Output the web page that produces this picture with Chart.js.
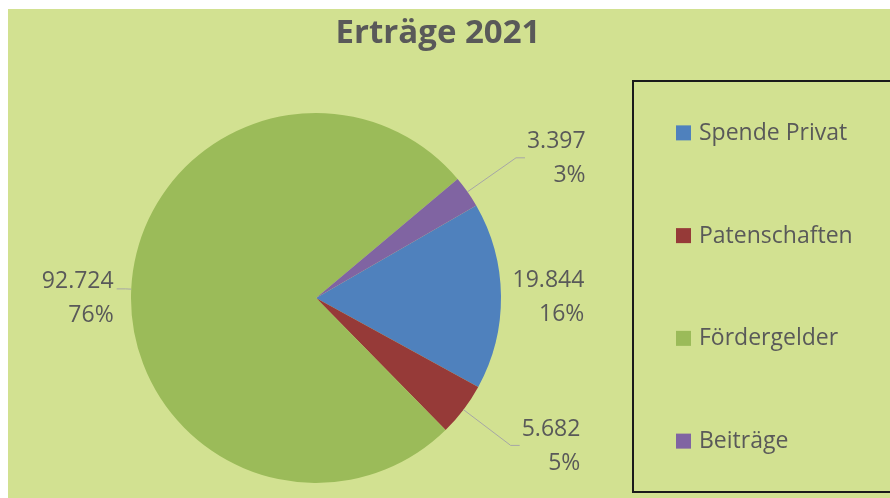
<!DOCTYPE html>
<html>
<head>
<meta charset="utf-8">
<script src="https://cdn.jsdelivr.net/npm/chart.js@4"></script>
<style>
  body { margin: 0; background: #ffffff; }
  #rahmen {
    position: absolute; left: 8px; top: 9px;
    width: 882px; height: 489px;
    background: #d2e191;
  }
</style>
</head>
<body>
<div id="rahmen"><canvas id="torte"></canvas></div>
<script>
// Daten
let kategorien = ["Spende Privat", "Patenschaften", "Fördergelder", "Beiträge"];
let betraege = [19844, 5682, 92724, 3397];
let farben = ["#4f81bd", "#963a38", "#9bbb59", "#8064a2"];
let titel = "Erträge 2021";

let schrift = "'Open Sans', 'DejaVu Sans', sans-serif";
let textFarbe = "#595959";

function formaterValor(valor) {
  return valor.toLocaleString("de-DE");
}

// Beschriftung, Titel und Legende selbst zeichnen
let beschriftung = {
  id: "beschriftung",
  afterDatasetsDraw(chart) {
    let ctx = chart.ctx;
    let summe = betraege.reduce((a, b) => a + b, 0);
    let meta = chart.getDatasetMeta(0);

    ctx.save();
    ctx.font = "23px " + schrift;
    ctx.fillStyle = textFarbe;
    ctx.textBaseline = "middle";

    meta.data.forEach((arc, i) => {
      let p = arc.getProps(["x", "y", "startAngle", "endAngle", "outerRadius"], true);
      let mitte = (p.startAngle + p.endAngle) / 2;
      let anteil = betraege[i] / summe;
      let klein = anteil < 0.1;
      let rechts = Math.cos(mitte) > 0;
      let mitLinie = klein || !rechts;
      let r = p.outerRadius * (klein ? 1.32 : 1.03);

      let kante = {
        x: p.x + Math.cos(mitte) * p.outerRadius,
        y: p.y + Math.sin(mitte) * p.outerRadius,
      };
      let knick = { x: p.x + Math.cos(mitte) * r, y: p.y + Math.sin(mitte) * r };
      let ende = { x: knick.x + (rechts ? 9 : -9), y: knick.y };

      let zeile1 = formaterValor(betraege[i]);
      let zeile2 = Math.round(anteil * 100) + "%";
      let breite = Math.max(ctx.measureText(zeile1).width, ctx.measureText(zeile2).width);

      let y1, xRechts;
      if (mitLinie) {
        ctx.beginPath();
        ctx.strokeStyle = "#a6a6a6";
        ctx.lineWidth = 1;
        ctx.moveTo(kante.x, kante.y);
        ctx.lineTo(knick.x, knick.y);
        ctx.lineTo(ende.x, ende.y);
        ctx.stroke();
        y1 = ende.y - (klein ? 16 : 7);
        xRechts = rechts ? ende.x + 2 + breite : ende.x - 3;
      } else {
        y1 = knick.y - 15;
        xRechts = knick.x + 6 + breite;
      }
      ctx.textAlign = "right";
      ctx.fillText(zeile1, xRechts, y1);
      ctx.fillText(zeile2, xRechts, y1 + 34);
    });

    // Titel
    ctx.font = "bold 33px " + schrift;
    ctx.textAlign = "center";
    ctx.textBaseline = "alphabetic";
    ctx.fillText(titel, 430, 34);

    // Legende mit Rahmen
    let box = { x: 625, y: 72, w: 270, h: 411 };
    ctx.strokeStyle = "#1a1a1a";
    ctx.lineWidth = 2;
    ctx.strokeRect(box.x, box.y, box.w, box.h);

    ctx.font = "23px " + schrift;
    ctx.textAlign = "left";
    ctx.textBaseline = "middle";
    let fach = box.h / kategorien.length;
    kategorien.forEach((k, i) => {
      let yMitte = box.y + fach * (i + 0.5);
      ctx.fillStyle = farben[i];
      ctx.fillRect(668, yMitte - 7, 15, 15);
      ctx.fillStyle = textFarbe;
      ctx.fillText(k, 691, yMitte + 1);
    });
    ctx.restore();
  },
};

new Chart(document.getElementById("torte"), {
  type: "pie",
  data: {
    labels: kategorien,
    datasets: [
      {
        data: betraege,
        backgroundColor: farben,
        borderWidth: 0,
      },
    ],
  },
  options: {
    responsive: true,
    maintainAspectRatio: false,
    animation: false,
    rotation: 60,
    layout: {
      padding: { left: 0, right: 266, top: 104, bottom: 15 },
    },
    plugins: {
      legend: { display: false },
      title: { display: false },
      tooltip: { enabled: false },
    },
  },
  plugins: [beschriftung],
});
</script>
</body>
</html>
